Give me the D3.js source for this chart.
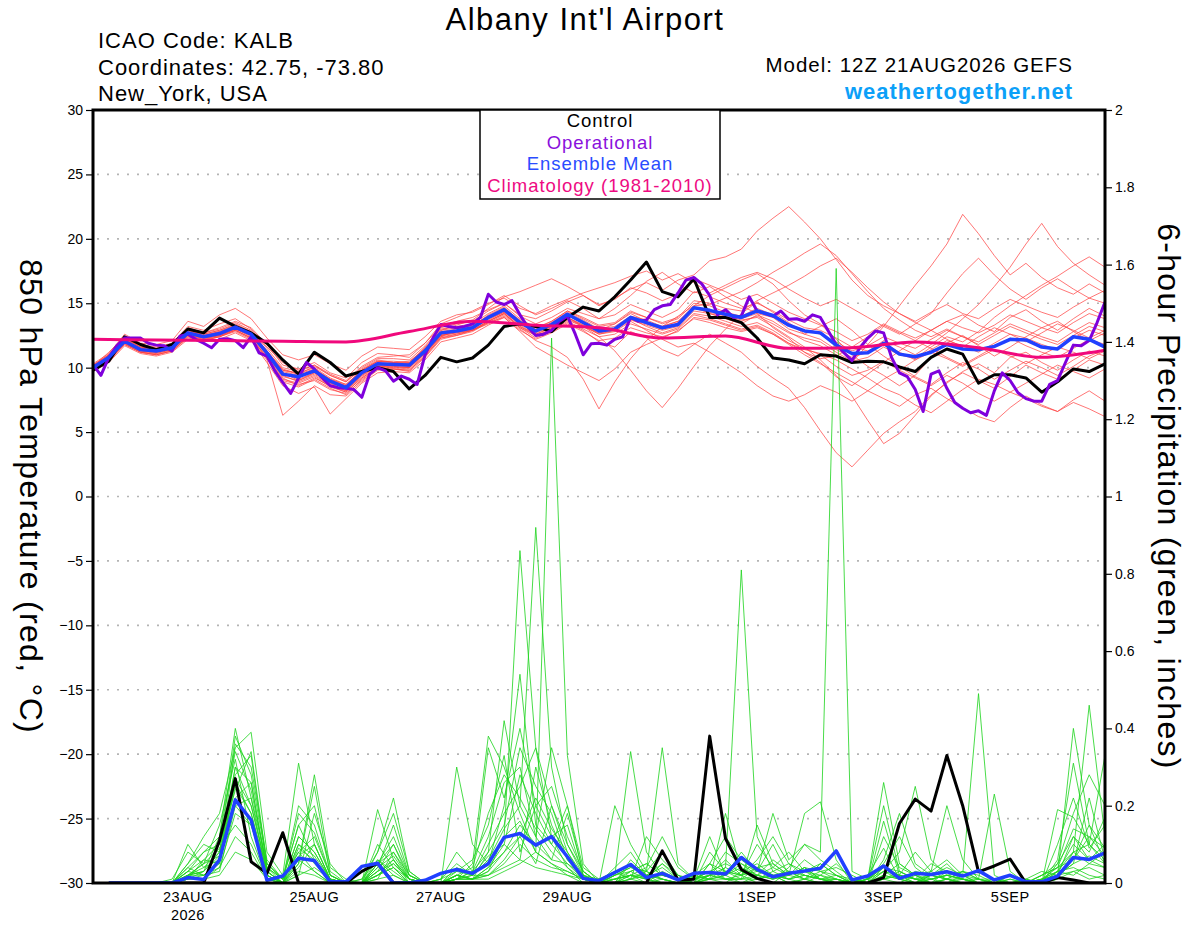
<!DOCTYPE html>
<html lang="en">
<head>
<meta charset="utf-8">
<script src="https://d3js.org/d3.v7.min.js"></script>
<style>
  body { margin: 0; background: #fff; }
  text { font-family: "Liberation Sans", Arial, Helvetica, sans-serif; }
</style>
</head>
<body>

<div id="graph"></div>

<script>

// ---- data (read off the GEFS plume for KALB, run 12Z 21AUG2026) ----
// 850 hPa temperature, every 6 h from 21AUG 12Z to 06SEP 12Z (65 values)
var control = [9.8,10.5,12.4,11.8,11.4,11.8,13.0,12.7,13.85,13.2,12.7,
  11.9,10.6,9.5,11.2,10.4,9.35,9.7,10.0,9.7,8.35,
  9.4,10.8,10.45,10.75,11.75,13.2,13.4,13.2,12.8,13.9,
  14.7,14.4,15.5,16.8,18.2,15.9,15.5,16.9,13.9,13.9,
  13.5,12.3,10.75,10.6,10.3,11.0,10.9,10.4,10.5,10.45,
  10.05,9.7,10.8,11.45,11.05,8.8,9.45,9.45,9.2,8.1,
  8.9,9.9,9.7,10.3];

var ensMean = [10.0,10.8,12.05,11.4,11.3,11.55,12.7,12.4,12.65,13.15,12.6,
  11.15,9.5,9.3,9.75,8.95,8.45,9.6,10.3,10.25,10.2,
  11.3,12.7,12.85,13.1,13.9,14.5,13.5,12.85,13.35,14.15,
  13.5,12.85,13.0,13.9,13.5,13.1,13.35,14.65,14.45,14.15,
  13.9,14.4,14.05,13.3,12.85,12.7,11.75,11.1,11.15,11.9,
  11.05,10.85,11.2,11.8,11.45,11.4,11.65,12.2,12.15,11.6,
  11.45,12.4,12.2,11.6];

// operational run, every 3 h (129 values)
var operational = [10.25,9.4,10.8,11.7,12.3,12.3,12.3,11.9,11.75,11.7,
  11.3,12.45,12.6,12.2,11.9,11.55,12.2,12.25,12.1,11.55,
  12.4,11.15,10.9,9.75,8.85,8.0,9.2,10.4,9.9,9.2,
  8.6,8.45,8.4,8.3,7.7,9.5,10.0,9.75,8.95,9.35,
  9.1,8.7,11.0,12.3,13.35,13.2,13.1,13.2,13.4,13.9,
  15.7,15.1,14.9,15.2,14.1,13.15,12.5,12.6,12.9,13.6,
  14.0,12.6,11.0,11.85,11.9,11.75,12.2,12.4,13.9,13.6,
  13.7,14.5,14.8,14.9,15.8,16.8,17.0,16.5,15.6,14.1,
  14.5,13.9,14.0,15.5,14.4,14.2,14.0,14.4,13.75,13.8,
  13.6,14.1,13.9,12.85,11.8,11.15,10.55,11.55,12.3,12.85,
  12.7,10.8,9.6,9.3,8.3,6.6,9.5,9.75,8.4,7.3,
  6.85,6.5,6.65,6.3,8.2,9.6,9.0,8.05,7.6,7.4,
  7.4,8.7,9.0,10.4,11.75,11.7,12.1,13.5,15.1];

// 1981-2010 climatology, one value a day at 12Z (17 values)
var climatology = [12.2,12.15,12.1,12.05,12.0,12.8,13.6,13.3,13.1,12.3,12.45,
  11.5,11.55,12.0,11.55,10.8,11.35];

// ensemble members, 850 hPa temperature every 6 h
var tempMembers = [
 [10.1,11.2,12.4,11.8,11.6,11.9,13.2,12.9,13.4,13.8,13.0, 11.6,10.4,9.8,10.2,9.5,9.0,10.1,10.8,10.9,11.0, 11.9,13.2,13.6,13.9,14.5,15.0,14.1,13.8,14.4,15.1, 15.6,14.8,15.4,16.1,16.6,16.0,16.8,17.2,18.3,18.6, 19.2,20.6,21.6,22.5,21.3,20.0,18.4,16.8,15.6,14.8, 14.2,13.5,12.9,13.6,14.1,13.3,12.8,13.9,14.5,13.6, 12.9,13.8,14.6,14.0],
 [9.8,10.5,11.8,11.2,11.0,11.3,12.3,12.1,12.4,12.8,12.2, 10.6,6.3,7.4,8.6,7.9,7.8,8.9,9.8,9.9,9.7, 10.8,12.2,12.5,12.9,13.6,14.2,13.1,12.3,12.8,13.5, 12.9,12.0,11.6,12.8,12.3,11.4,10.9,11.8,12.6,11.9, 11.2,10.1,9.2,8.4,6.9,5.1,3.4,2.3,3.6,4.9, 5.8,6.6,7.9,8.8,9.7,10.3,9.6,10.8,11.2,10.4, 9.8,10.6,11.3,10.9],
 [10.0,10.9,12.2,11.5,11.2,11.6,12.9,12.6,12.9,13.4,12.8, 11.3,9.9,9.5,10.1,9.4,8.9,9.9,10.6,10.4,10.5, 11.4,12.6,12.8,12.9,13.4,14.0,13.0,12.1,11.6,10.8, 9.1,6.8,8.9,10.7,12.1,13.2,14.0,14.8,15.6,16.2, 16.8,17.3,16.5,15.2,14.1,13.4,12.2,11.0,10.1,9.4, 8.6,9.4,10.8,11.9,12.5,11.7,10.9,11.6,12.4,13.1, 13.6,12.8,12.1,12.7],
 [9.9,10.6,11.9,11.3,11.1,11.4,12.5,12.3,12.5,13.0,12.4, 10.9,9.2,8.6,9.2,8.6,8.1,9.2,10.0,10.2,10.1, 11.1,12.4,12.9,13.3,14.0,14.6,13.7,12.9,13.2,13.9, 13.2,12.4,11.3,9.8,8.2,6.9,8.4,10.1,11.7,13.0, 14.2,15.1,14.3,13.5,12.6,13.2,13.8,12.9,11.8,10.9, 10.1,9.3,8.7,9.6,10.4,9.9,9.1,9.8,10.5,10.0, 9.4,10.1,10.9,11.4],
 [10.2,11.0,12.3,11.6,11.5,11.8,13.0,12.7,13.1,13.6,13.1, 11.8,10.2,9.9,10.4,9.6,9.2,10.4,11.1,11.0,10.8, 11.9,13.4,13.9,14.4,15.0,15.4,14.6,14.2,14.8,15.3, 15.8,16.2,16.6,17.1,17.5,16.8,17.3,16.6,15.8,16.4, 17.0,17.4,16.9,16.1,15.4,14.8,15.3,14.6,13.9,13.2, 12.6,13.4,14.2,15.8,17.3,18.5,17.2,16.1,15.3,16.2, 16.9,16.1,15.4,16.0],
 [9.8,10.7,12.0,11.4,11.2,11.5,12.6,12.4,12.7,13.1,12.6, 11.0,9.6,9.1,9.6,8.8,8.4,9.5,10.2,10.1,10.0, 11.2,12.5,12.8,13.0,13.8,14.3,13.4,12.8,13.4,14.1, 13.6,12.9,13.4,14.2,13.6,13.0,13.5,14.7,14.2,13.8, 13.4,14.1,13.6,12.8,12.1,11.7,11.0,10.4,11.8,13.2, 14.8,16.4,17.9,19.6,21.9,20.4,18.7,17.2,18.1,17.0, 16.2,15.7,16.5,15.8],
 [10.1,10.9,12.1,11.5,11.4,11.6,12.8,12.5,12.8,13.2,12.7, 11.2,9.4,9.3,9.9,9.1,8.6,9.8,10.5,10.4,10.3, 11.5,12.8,13.0,13.2,14.1,14.7,13.6,12.9,13.5,14.3, 13.7,13.0,13.2,14.0,13.7,13.2,13.6,14.6,14.5,14.1, 13.8,14.2,13.9,13.0,12.6,12.2,11.4,10.8,11.2,12.1, 11.6,11.0,11.8,12.7,13.8,14.9,16.3,17.8,19.6,21.2, 19.4,18.1,17.2,16.4],
 [9.7,10.4,11.7,11.1,10.9,11.2,12.2,12.0,12.2,12.7,12.1, 10.4,8.6,8.0,8.5,6.4,7.6,8.8,9.6,9.7,9.6, 10.6,12.0,12.3,12.6,13.3,13.9,12.9,12.2,12.7,13.4, 12.8,12.1,12.3,13.1,12.7,12.4,12.8,13.9,13.7,13.3, 12.9,13.2,12.6,11.8,11.0,10.3,9.6,8.9,8.2,7.6, 7.0,7.9,8.4,7.6,6.9,6.2,5.8,6.9,7.8,7.1, 6.6,7.5,8.2,7.4],
 [10.3,11.1,12.6,11.9,11.8,12.1,13.6,13.2,14.1,14.6,13.8, 12.3,11.0,10.6,11.0,10.3,9.8,10.9,11.6,11.5,11.4, 12.4,13.6,14.1,14.3,14.9,15.6,14.8,14.1,14.6,15.2, 14.6,13.8,14.1,14.9,14.4,13.9,14.5,15.9,15.5,15.0, 14.6,15.0,14.4,13.7,13.1,12.9,12.3,11.6,11.3,11.9, 11.2,10.6,11.4,12.1,11.7,11.2,11.9,12.6,12.3,11.8, 11.4,12.3,12.9,12.5],
 [10.0,10.8,12.0,11.4,11.3,11.5,12.7,12.4,12.6,13.2,12.5, 11.1,9.5,9.3,9.7,8.9,8.5,9.6,10.3,10.3,10.2, 11.3,12.7,12.9,13.1,13.9,14.5,13.5,12.8,13.3,14.1, 13.4,12.8,13.0,13.8,13.4,13.0,13.3,14.6,14.3,14.0, 13.7,13.9,13.2,12.4,11.6,10.6,9.4,7.8,5.9,4.1, 4.9,6.3,7.8,8.9,9.6,9.0,8.4,9.3,10.2,9.6, 9.1,9.8,10.6,10.2],
 [10.1,10.9,12.2,11.6,11.4,11.7,12.9,12.5,12.8,13.3,12.7, 11.3,9.7,9.4,9.8,9.0,8.6,9.7,10.4,10.3,10.3, 11.4,12.9,13.3,13.7,14.6,15.5,15.9,16.4,16.9,16.3, 15.6,14.9,15.3,16.2,15.8,15.2,15.7,16.9,16.4,15.9, 15.3,15.7,15.0,14.3,13.8,13.3,12.8,12.1,12.6,13.4, 12.8,12.3,12.9,13.6,13.1,12.7,13.3,14.1,13.6,13.1, 12.7,13.5,14.2,13.8],
 [9.9,10.6,11.9,11.2,11.0,11.3,12.4,12.2,12.5,12.9,12.3, 10.8,9.0,8.7,9.0,8.3,8.0,9.0,9.9,9.9,9.8, 10.9,12.3,12.6,12.9,13.6,14.2,13.2,12.6,13.1,13.8, 13.2,12.6,12.8,13.6,12.9,12.2,11.6,11.9,11.2,10.4, 9.6,8.6,7.8,7.4,7.9,8.6,8.1,7.4,8.2,9.1, 9.8,10.6,11.2,10.7,10.1,10.8,11.4,10.9,10.3,11.0, 11.6,11.2,10.7,11.3],
 [10.0,10.7,12.1,11.4,11.3,11.6,12.6,12.4,12.6,13.1,12.6, 11.2,9.8,9.6,10.0,9.2,8.7,9.8,10.5,10.5,10.4, 11.6,13.0,13.2,13.4,14.2,14.8,13.8,13.1,13.6,14.4, 13.9,13.3,13.5,14.4,13.9,13.5,13.9,15.2,15.0,14.6, 14.4,15.2,15.8,16.4,17.1,17.9,18.5,17.4,16.2,15.1, 14.2,13.6,14.3,14.9,14.2,13.8,14.6,15.3,14.8,14.3, 13.9,14.7,15.4,15.0],
 [9.9,10.8,12.0,11.3,11.2,11.5,12.6,12.3,12.5,13.0,12.5, 11.0,9.3,9.0,9.5,8.7,8.3,9.4,10.1,10.0,10.0, 11.1,12.5,12.7,13.0,13.7,14.3,13.3,12.6,13.1,13.9, 13.3,12.6,12.9,13.7,13.3,12.9,13.2,14.4,14.2,13.9, 13.6,14.0,13.4,12.7,12.3,12.0,11.2,10.5,10.8,11.6, 11.0,10.7,11.6,12.4,12.0,12.8,13.9,14.8,15.6,16.4, 17.1,17.9,18.6,17.8],
 [10.0,10.9,12.1,11.5,11.3,11.5,12.7,12.4,12.7,13.1,12.6, 11.1,9.6,9.0,9.6,8.8,8.2,9.4,10.2,10.2,10.1, 11.2,12.6,12.8,13.1,13.8,14.4,13.4,12.7,13.2,13.9, 13.3,12.7,12.9,13.8,13.2,12.7,13.1,14.2,14.0,13.6, 13.2,13.5,12.9,12.1,11.5,11.0,10.1,9.4,9.8,10.5, 9.8,9.2,8.6,9.4,8.8,8.0,7.4,8.1,7.6,7.0, 6.6,7.3,6.8,6.2],
 [10.1,11.0,12.3,11.7,11.5,11.8,13.1,12.7,13.0,13.5,12.9, 11.5,10.0,9.7,10.2,9.4,8.9,10.0,10.7,10.7,10.6, 11.7,13.1,13.4,13.6,14.4,15.0,14.0,13.4,13.9,14.6, 14.2,13.8,14.6,15.6,16.7,17.4,16.5,15.8,16.3,15.5, 14.8,14.2,13.1,12.3,11.2,10.4,9.3,8.6,9.5,10.4, 11.3,12.1,12.9,12.2,11.6,12.4,13.1,12.6,12.0,12.7, 13.4,12.9,12.3,12.9],
 [9.8,10.6,11.8,11.2,11.0,11.3,12.4,12.1,12.4,12.9,12.3, 10.8,9.1,8.8,9.3,8.5,8.1,9.2,10.0,10.0,9.9, 11.0,12.4,12.6,12.9,13.6,14.2,13.2,12.5,13.0,13.7, 13.2,12.7,13.0,13.9,13.5,13.2,13.6,14.8,14.9,15.4, 15.9,16.6,17.4,18.1,18.9,19.6,18.7,17.3,15.9,14.6, 13.7,12.9,12.4,13.0,12.4,11.8,12.5,13.2,12.7,12.2, 11.8,12.5,13.2,12.8],
 [9.9,10.7,12.0,11.3,11.2,11.4,12.5,12.3,12.5,13.0,12.5, 11.0,9.4,8.9,9.4,8.6,8.2,9.3,10.1,10.1,10.0, 11.1,12.5,12.7,12.9,13.5,13.9,12.8,11.6,10.9,10.2, 9.6,9.0,9.9,11.2,11.8,12.3,12.9,13.8,13.5,13.1, 12.8,13.1,12.6,11.9,11.4,11.1,10.6,9.9,9.2,8.4, 7.9,7.1,6.5,7.4,8.3,9.1,8.7,8.1,8.8,9.5, 10.2,9.7,9.2,9.9],
 [10.2,11.0,12.2,11.6,11.4,11.7,12.8,12.6,12.9,13.3,12.8, 11.3,9.8,9.5,9.9,9.1,8.7,9.8,10.5,10.4,10.4, 11.5,12.9,13.1,13.3,14.0,14.6,13.6,13.0,13.6,14.4, 13.8,13.2,13.4,14.3,13.9,13.4,13.8,15.0,14.8,14.3, 14.0,14.6,14.1,13.4,12.9,12.6,12.0,11.3,11.7,12.4, 11.9,11.5,12.2,12.9,12.4,12.0,12.7,13.4,12.9,12.4, 12.0,12.8,13.5,13.1],
 [9.8,10.5,11.9,11.2,11.1,11.4,12.5,12.2,12.4,12.9,12.3, 10.7,8.9,8.5,9.1,8.4,7.9,9.1,9.9,9.9,9.8, 10.9,12.3,12.5,12.8,13.5,14.1,13.1,12.5,12.9,13.6, 13.0,12.4,12.6,13.4,13.0,12.6,13.0,14.1,13.8,13.4, 13.0,13.3,12.7,11.9,11.2,10.7,10.9,11.6,12.4,13.3, 12.7,12.1,11.5,10.8,10.2,10.9,11.6,12.3,11.7,11.2, 10.8,11.5,12.2,11.8]
];

// 6-hour precipitation (inches), periods ending 21AUG 18Z .. 06SEP 12Z (64 values)
var controlPrecip = [0,0,0,0,0,0,0,0.11, 0.27,0.055,0.025,0.13,0,0,0,0,
  0.03,0.051,0,0,0,0,0,0, 0,0,0,0,0,0,0,0,
  0,0,0,0.083,0.008,0.01,0.38,0.115, 0.035,0.012,0,0,0,0,0,0,
  0,0.014,0.154,0.217,0.186,0.33,0.2,0.029, 0.044,0.062,0,0,0.014,0.008,0,0];

var meanPrecip = [0,0,0,0,0,0.014,0.009,0.06, 0.215,0.163,0.007,0.018,0.064,0.058,0.003,0.003,
  0.043,0.051,0,0,0.007,0.025,0.035,0.025, 0.05,0.118,0.128,0.098,0.12,0.068,0.012,0.006,
  0.027,0.048,0.014,0.025,0.008,0.025,0.027,0.023, 0.066,0.035,0.016,0.025,0.031,0.038,0.083,0.008,
  0.018,0.044,0.012,0.025,0.022,0.029,0.018,0.032, 0.008,0.02,0.003,0.003,0.018,0.066,0.061,0.078];

var precipMembers = [
 [0,0,0,0,0,0.02,0.03,0.12, 0.40,0.22,0.05,0.01,0.08,0.03,0,0, 0,0.05,0.12,0.02,0,0.01,0.08,0.03, 0.05,0.12,0.86,0.35,0.12,0.04,0,0, 0,0.05,0.02,0,0,0.02,0.05,0.01, 0.02,0,0,0.03,0.01,0,0,0, 0,0.04,0.02,0,0.01,0,0.02,0, 0,0,0,0.02,0.05,0.12,0.08,0.17],
 [0,0,0,0,0,0.05,0.12,0.18, 0.35,0.39,0.08,0.02,0.31,0.10,0.01,0, 0,0.03,0.05,0.01,0,0,0.02,0.01, 0.08,0.42,0.20,0.92,0.30,0.10,0.02,0, 0.01,0.02,0,0.03,0.01,0,0.02,0.04, 0.81,0.12,0.03,0.01,0,0.02,0,0, 0,0.01,0,0.02,0,0.03,0.01,0, 0,0,0,0,0.03,0.02,0.05,0.08],
 [0,0,0,0,0,0.10,0.04,0.08, 0.30,0.20,0.03,0,0.05,0.25,0.02,0, 0,0.19,0.06,0,0,0,0.01,0.05, 0.38,0.30,0.18,0.08,1.41,0.33,0.05,0, 0,0.01,0.03,0.01,0,0.02,0.01,0, 0.03,0.05,0.02,0,0.01,0.03,0.04,0.02, 0,0.02,0.01,0,0.02,0.01,0,0, 0,0,0.01,0.03,0.02,0.40,0.15,0.05],
 [0,0,0,0,0,0.03,0.08,0.10, 0.28,0.33,0.04,0.01,0.15,0.06,0,0, 0.01,0.08,0.22,0.03,0,0,0.30,0.10, 0.05,0.20,0.54,0.15,0.10,0.20,0.02,0, 0.20,0.10,0.03,0.35,0.05,0.01,0.03,0.02, 0.05,0.03,0.10,0.02,0.18,0.21,0.06,0, 0.01,0.26,0.05,0.02,0,0.01,0.03,0.02, 0,0.01,0,0,0.19,0.17,0.10,0.33],
 [0,0,0,0,0,0.04,0.02,0.06, 0.25,0.18,0.02,0,0.12,0.08,0.01,0, 0,0.02,0.04,0,0,0,0.03,0.02, 0.02,0.06,0.12,0.05,0.20,0.08,0.01,0, 0.02,0.34,0.08,0.02,0.01,0,0.05,0.12, 0.06,0.03,0.18,0.06,0.10,0.08,1.59,0.03, 0.01,0.03,0.08,0.25,0.06,0.02,0.01,0, 0.01,0,0,0.02,0.04,0.08,0.46,0.12],
 [0,0,0,0,0,0.01,0.06,0.05, 0.36,0.30,0.06,0.01,0.20,0.15,0.02,0, 0,0.10,0.04,0,0,0.01,0.05,0.02, 0.35,0.22,0.40,0.20,0.25,0.12,0.03,0, 0,0.02,0.01,0.05,0.02,0,0.08,0.03, 0.01,0.15,0.05,0.02,0.04,0.01,0,0.01, 0,0.16,0.02,0,0.03,0.20,0.06,0.01, 0,0.02,0,0,0.06,0.31,0.10,0.05],
 [0,0,0,0,0,0.02,0.03,0.07, 0.22,0.26,0.03,0,0.02,0.18,0.05,0, 0,0.04,0.15,0.02,0,0,0.01,0.03, 0.12,0.26,0.30,0.12,0.06,0.18,0.03,0, 0.04,0.08,0.02,0.01,0,0.01,0.12,0.02, 0,0.02,0.06,0.03,0.01,0.05,0.02,0, 0.01,0.20,0.03,0.01,0.05,0.03,0.02,0.49, 0.02,0,0,0,0.02,0.05,0.22,0.06],
 [0,0,0,0,0,0.01,0.01,0.04, 0.18,0.15,0.02,0,0.05,0.28,0.04,0.01, 0,0.01,0.08,0.01,0,0,0.02,0.01, 0.04,0.10,0.06,0.30,0.15,0.06,0.01,0, 0,0.06,0.02,0.05,0.01,0.02,0.01,0.18, 0.03,0.01,0.02,0,0.01,0.02,0.05,0.01, 0,0.01,0.02,0.01,0,0,0.01,0.01, 0.23,0.03,0,0.01,0.02,0.12,0.06,0.10],
 [0,0,0,0,0.01,0.08,0.05,0.15, 0.32,0.12,0.01,0,0.10,0.05,0.01,0, 0,0.06,0.02,0,0,0.01,0.03,0.06, 0.15,0.33,0.08,0.20,0.12,0.15,0.02,0.01, 0.03,0.01,0.12,0.06,0.02,0,0.01,0.02, 0.04,0.02,0.01,0.02,0.04,0.01,0,0, 0.02,0.09,0.01,0.03,0.02,0.05,0.01,0, 0,0,0.01,0,0.10,0.22,0.09,0.15],
 [0,0,0,0,0,0.01,0.02,0.03, 0.20,0.22,0.02,0,0.04,0.10,0.01,0, 0,0.02,0.06,0.01,0,0,0.01,0.01, 0.03,0.08,0.15,0.10,0.06,0.05,0.02,0, 0.01,0.03,0.05,0.02,0.01,0.01,0.02,0.06, 0.02,0.10,0.04,0.02,0.06,0.03,0.02,0, 0,0.02,0.05,0.02,0.01,0.02,0.03,0.01, 0.01,0,0,0,0.01,0.08,0.05,0.04],
 [0,0,0,0,0,0.02,0.05,0.09, 0.15,0.10,0.01,0,0.06,0.03,0,0, 0,0.03,0.10,0.02,0,0,0.02,0.01, 0.02,0.05,0.10,0.06,0.04,0.03,0.01,0, 0,0.02,0.01,0,0,0.01,0.03,0.01, 0.01,0.04,0.02,0.01,0.02,0.01,0.01,0, 0.01,0.05,0.12,0.04,0.01,0.02,0.01,0, 0,0,0,0.01,0.03,0.04,0.02,0.01],
 [0,0,0,0,0,0.03,0.02,0.05, 0.27,0.20,0.04,0.01,0.08,0.12,0.02,0, 0,0.08,0.18,0.03,0,0,0.04,0.02, 0.10,0.18,0.25,0.35,0.20,0.10,0.03,0, 0.02,0.04,0.03,0.01,0,0.01,0.02,0.01, 0,0.01,0.03,0.05,0.02,0.01,0,0, 0,0.03,0.01,0,0.02,0.01,0.01,0, 0,0.01,0,0,0.05,0.18,0.28,0.20],
 [0,0,0,0,0,0.01,0.03,0.08, 0.38,0.28,0.05,0.01,0.15,0.20,0.03,0, 0,0.02,0.05,0.01,0,0,0.01,0.02, 0.06,0.14,0.20,0.12,0.35,0.20,0.04,0.01, 0.01,0.02,0.01,0,0,0.01,0.01,0.02, 0.08,0.03,0.02,0.01,0.03,0.02,0.01,0, 0,0.01,0.02,0.01,0,0.01,0,0, 0,0,0,0.02,0.04,0.06,0.12,0.09],
 [0,0,0,0,0,0.02,0.04,0.06, 0.30,0.26,0.03,0,0.12,0.08,0.01,0, 0,0.05,0.08,0.02,0,0,0.01,0.03, 0.08,0.15,0.35,0.25,0.18,0.06,0.02,0, 0,0.03,0.05,0.02,0.01,0,0.05,0.03, 0.02,0.06,0.12,0.05,0.03,0.01,0.02,0, 0,0.12,0.04,0.02,0.03,0.01,0,0.01, 0,0,0.01,0,0.02,0.06,0.15,0.09],
 [0,0,0,0,0,0.03,0.06,0.10, 0.24,0.34,0.05,0.01,0.18,0.13,0.02,0, 0.01,0.06,0.03,0,0,0,0.02,0.01, 0.03,0.12,0.16,0.08,0.05,0.02,0.01,0, 0.02,0.04,0.03,0.08,0.02,0.01,0.03,0.05, 0.03,0.02,0.04,0.08,0.03,0.05,0.02,0.01, 0,0.06,0.18,0.05,0.02,0.01,0.03,0.01, 0,0.02,0,0,0.03,0.10,0.06,0.04],
 [0,0,0,0,0,0.02,0.02,0.04, 0.12,0.08,0.01,0,0.03,0.02,0,0, 0,0.02,0.04,0.01,0,0,0.01,0.01, 0.02,0.04,0.06,0.04,0.03,0.02,0,0, 0,0.01,0.02,0.01,0,0,0.01,0.01, 0.01,0.02,0.01,0.02,0.01,0,0.01,0, 0,0.02,0.01,0,0.01,0.02,0.01,0, 0,0,0,0,0.01,0.03,0.04,0.02],
 [0,0,0,0,0,0.04,0.08,0.12, 0.34,0.24,0.04,0,0.10,0.07,0.01,0, 0,0.04,0.07,0.01,0,0,0.02,0.04, 0.18,0.28,0.22,0.14,0.08,0.04,0.01,0, 0.01,0.02,0.04,0.12,0.04,0.01,0.02,0.08, 0.05,0.02,0.01,0.04,0.10,0.06,0.03,0, 0.01,0.04,0.02,0.08,0.03,0.06,0.02,0, 0,0,0,0.01,0.04,0.14,0.12,0.07],
 [0,0,0,0,0,0.01,0.01,0.02, 0.08,0.06,0.01,0,0.02,0.04,0.01,0, 0,0.01,0.02,0,0,0,0.01,0.01, 0.01,0.03,0.05,0.08,0.05,0.03,0.01,0, 0,0.01,0,0.01,0,0,0.02,0.01, 0.01,0.01,0.02,0.01,0.02,0.01,0,0, 0,0.01,0.03,0.01,0,0.01,0,0, 0,0,0,0,0.02,0.03,0.01,0.02],
 [0,0,0,0,0,0.02,0.05,0.07, 0.26,0.18,0.03,0,0.09,0.06,0.01,0, 0,0.03,0.06,0.01,0,0,0.01,0.02, 0.07,0.10,0.28,0.18,0.10,0.05,0.01,0, 0.01,0.02,0.02,0.04,0.01,0,0.01,0.04, 0.02,0.03,0.02,0.03,0.02,0.01,0.01,0, 0,0.03,0.02,0.01,0.01,0.02,0.01,0, 0,0,0,0.01,0.02,0.05,0.07,0.05],
 [0,0,0,0,0,0.05,0.10,0.08, 0.20,0.15,0.02,0,0.07,0.10,0.01,0, 0,0.05,0.10,0.01,0,0,0.02,0.01, 0.04,0.08,0.12,0.22,0.14,0.08,0.02,0, 0.02,0.03,0.01,0.02,0.01,0,0.02,0.03, 0.02,0.04,0.05,0.02,0.04,0.03,0.01,0, 0.01,0.04,0.03,0.01,0.02,0.04,0.02,0.01, 0,0,0,0.01,0.03,0.08,0.10,0.06]
];

// date labels along the bottom
var tickDays = [[7,23],[7,25],[7,27],[7,29],[8,1],[8,3],[8,5]];   // [month index, day]
var tickLabels = ["23AUG","25AUG","27AUG","29AUG","1SEP","3SEP","5SEP"];

// ---- layout ----
var margin = {top: 110, right: 95, bottom: 44, left: 93},
    width = 1200 - margin.left - margin.right,
    height = 927 - margin.top - margin.bottom;

var runStart = Date.UTC(2026, 7, 21, 12);
function atHour(h) { return new Date(runStart + h * 3600000); }

var svg = d3.select("#graph")
  .append("svg")
    .attr("width", 1200)
    .attr("height", 927);

var g = svg.append("g")
    .attr("transform", "translate(" + margin.left + "," + margin.top + ")");

// scales
var x = d3.scaleUtc()
  .domain([atHour(0), atHour(384)])
  .range([0, width]);

var yT = d3.scaleLinear()
  .domain([-30, 30])
  .range([height, 0]);

var yP = d3.scaleLinear()
  .domain([0, 2])
  .range([height, 0]);

// dotted grid lines
g.append("g")
  .selectAll("line")
  .data(d3.range(-25, 26, 5))
  .enter()
  .append("line")
    .attr("x1", 4)
    .attr("x2", width - 2)
    .attr("y1", function(d) { return yT(d); })
    .attr("y2", function(d) { return yT(d); })
    .style("stroke", "#b4b4b4")
    .style("stroke-width", 1.6)
    .style("stroke-dasharray", "2,8");

svg.append("clipPath")
    .attr("id", "plotclip")
  .append("rect")
    .attr("width", width)
    .attr("height", height);

var plot = g.append("g").attr("clip-path", "url(#plotclip)");

var tempLine6 = d3.line()
  .x(function(d, i) { return x(atHour(i * 6)); })
  .y(function(d) { return yT(d); });

var tempLine3 = d3.line()
  .x(function(d, i) { return x(atHour(i * 3)); })
  .y(function(d) { return yT(d); });

var climLine = d3.line()
  .curve(d3.curveMonotoneX)
  .x(function(d, i) { return x(atHour(i * 24)); })
  .y(function(d) { return yT(d); });

var precipLine = d3.line()
  .x(function(d, i) { return x(atHour((i + 1) * 6)); })
  .y(function(d) { return yP(d); });

// ensemble members
plot.append("g")
  .selectAll("path")
  .data(tempMembers)
  .enter()
  .append("path")
    .attr("d", tempLine6)
    .style("fill", "none")
    .style("stroke", "#ff4040")
    .style("stroke-opacity", 0.8)
    .style("stroke-width", 0.9);

plot.append("g")
  .selectAll("path")
  .data(precipMembers)
  .enter()
  .append("path")
    .attr("d", precipLine)
    .style("fill", "none")
    .style("stroke", "#1ed41e")
    .style("stroke-opacity", 0.9)
    .style("stroke-width", 0.9);

// control, operational, mean, climatology
function bold(d, gen, color, w) {
  plot.append("path")
    .datum(d)
    .attr("d", gen)
    .style("fill", "none")
    .style("stroke", color)
    .style("stroke-width", w)
    .style("stroke-linejoin", "round");
}

bold(controlPrecip, precipLine, "#000000", 3);
bold(meanPrecip, precipLine, "#2040ff", 3.5);
bold(control, tempLine6, "#000000", 3);
bold(operational, tempLine3, "#7f00dc", 3);
bold(ensMean, tempLine6, "#2040ff", 3.5);
bold(climatology, climLine, "#f0087c", 3);

// frame
g.append("rect")
    .attr("width", width)
    .attr("height", height)
    .style("fill", "none")
    .style("stroke", "#000")
    .style("stroke-width", 3);

// left axis
var leftAxis = g.append("g")
  .call(d3.axisLeft(yT)
    .tickValues(d3.range(-30, 31, 5))
    .tickSize(7)
    .tickPadding(3));
leftAxis.select(".domain").remove();
leftAxis.selectAll("text").style("font-size", "14px").style("font-family", "Liberation Sans, Arial, sans-serif");
leftAxis.selectAll("line").style("stroke-width", 1.2);

// right axis
var rightAxis = g.append("g")
  .attr("transform", "translate(" + width + ",0)")
  .call(d3.axisRight(yP)
    .tickValues(d3.range(0, 2.001, 0.2))
    .tickFormat(d3.format("~g"))
    .tickSize(7)
    .tickPadding(3));
rightAxis.select(".domain").remove();
rightAxis.selectAll("text").style("font-size", "14px").style("font-family", "Liberation Sans, Arial, sans-serif");
rightAxis.selectAll("line").style("stroke-width", 1.2);

// bottom date labels
var tickDates = tickDays.map(function(d) { return new Date(Date.UTC(2026, d[0], d[1])); });
g.append("g")
  .selectAll("text")
  .data(tickDates)
  .enter()
  .append("text")
    .attr("x", function(d) { return x(d); })
    .attr("y", height + 19)
    .attr("text-anchor", "middle")
    .style("font-size", "14.5px")
    .style("letter-spacing", "0.4px")
    .text(function(d, i) { return tickLabels[i]; });

g.append("text")
    .attr("x", x(tickDates[0]))
    .attr("y", height + 37)
    .attr("text-anchor", "middle")
    .style("font-size", "14.5px")
    .style("letter-spacing", "0.4px")
    .text("2026");

// legend box
var legend = svg.append("g").attr("transform", "translate(480,110)");
legend.append("rect")
    .attr("width", 240)
    .attr("height", 89)
    .style("fill", "#fff")
    .style("stroke", "#000")
    .style("stroke-width", 1.5);
var legendItems = [["Control", "#000000"], ["Operational", "#8a10dc"],
                   ["Ensemble Mean", "#2a4cff"], ["Climatology (1981-2010)", "#ee0a82"]];
legend.selectAll("text")
  .data(legendItems)
  .enter()
  .append("text")
    .attr("x", 120)
    .attr("y", function(d, i) { return 17 + i * 21.7; })
    .attr("text-anchor", "middle")
    .style("font-size", "18.5px")
    .style("letter-spacing", "1px")
    .style("fill", function(d) { return d[1]; })
    .text(function(d) { return d[0]; });

// header texts
svg.append("text")
    .attr("x", 585)
    .attr("y", 30)
    .attr("text-anchor", "middle")
    .style("font-size", "31px")
    .style("letter-spacing", "1.5px")
    .text("Albany Int'l Airport");

var info = ["ICAO Code: KALB", "Coordinates: 42.75, -73.80", "New_York, USA"];
svg.selectAll(".info")
  .data(info)
  .enter()
  .append("text")
    .attr("class", "info")
    .attr("x", 98)
    .attr("y", function(d, i) { return 48 + i * 26.5; })
    .style("font-size", "22px")
    .style("letter-spacing", "1px")
    .text(function(d) { return d; });

svg.append("text")
    .attr("x", 1073)
    .attr("y", 72)
    .attr("text-anchor", "end")
    .style("font-size", "20.5px")
    .style("letter-spacing", "1px")
    .text("Model: 12Z 21AUG2026 GEFS");

svg.append("text")
    .attr("x", 1073)
    .attr("y", 99)
    .attr("text-anchor", "end")
    .style("font-size", "22px")
    .style("font-weight", "bold")
    .style("letter-spacing", "1px")
    .style("fill", "#0ca0f8")
    .text("weathertogether.net");

// axis titles
svg.append("text")
    .attr("transform", "translate(20," + (margin.top + height / 2) + ") rotate(90)")
    .attr("text-anchor", "middle")
    .style("font-size", "32px")
    .style("letter-spacing", "1.3px")
    .text("850 hPa Temperature (red, \u00B0C)");

svg.append("text")
    .attr("transform", "translate(1158," + (margin.top + height / 2) + ") rotate(90)")
    .attr("text-anchor", "middle")
    .style("font-size", "32px")
    .style("letter-spacing", "1.3px")
    .text("6-hour Precipitation (green, inches)");

</script>
</body>
</html>
